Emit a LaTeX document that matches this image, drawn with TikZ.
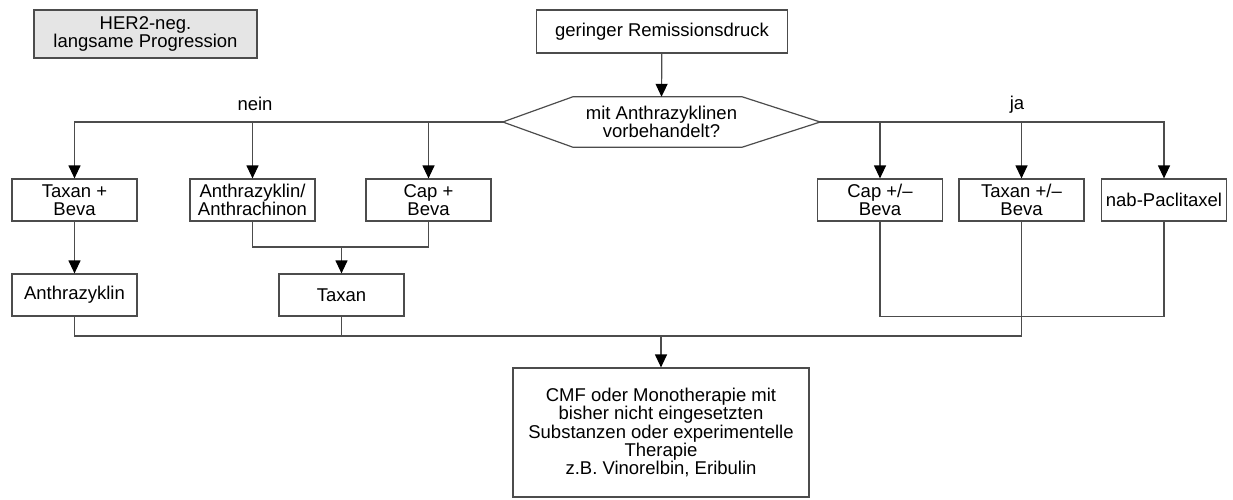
\documentclass[tikz,border=0pt]{standalone}
\usepackage{fontspec}
\setmainfont{Liberation Sans}
\usetikzlibrary{arrows.meta}

\begin{document}
\begin{tikzpicture}[x=1pt,y=-1pt,
    box/.style={draw=black!70, line width=1.2pt, minimum width=125pt, minimum height=42pt,
        align=center, inner sep=0pt, font=\fontsize{18.5}{18.3}\selectfont},
    link/.style={draw=black!70, line width=1.2pt},
    arr/.style={link, -{Triangle[length=13pt,width=12pt,color=black]}},
    txt/.style={font=\fontsize{18.5}{18.3}\selectfont, inner sep=0pt}]

    % Page frame
    \useasboundingbox (0,0) rectangle (1233,500);

    % Heading boxes
    \node (her) at (145.5,34) [box, fill=black!10, minimum width=223pt, minimum height=48pt] {HER2-neg.\\langsame Progression};
    \node (start) at (662,31.5) [box, minimum width=251pt, minimum height=43pt] {geringer Remissionsdruck};

    % Question (hexagon drawn round the node)
    \node (q) at (661.5,122) [txt, align=center, minimum width=317pt, minimum height=50pt] {mit Anthrazyklinen\\vorbehandelt?};
    \draw[link] (q.west) -- ([xshift=70pt]q.north west) -- ([xshift=-78pt]q.north east) -- (q.east)
        -- ([xshift=-78pt]q.south east) -- ([xshift=70pt]q.south west) -- cycle;

    % Branch labels
    \node (nein) at (255,104) [txt] {nein};
    \node (ja) at (1017,105) [txt] {ja};

    % First line of therapy
    \node (tb) at (74.5,200) [box] {Taxan +\\Beva};
    \node (aa) at (252.5,200) [box] {Anthrazyklin/\\Anthrachinon};
    \node (cb) at (428.5,200) [box] {Cap +\\Beva};
    \node (cpb) at (880,200) [box] {Cap +/--\\Beva};
    \node (tpb) at (1021.5,200) [box] {Taxan +/--\\Beva};
    \node (nab) at (1164,200) [box] {nab-Paclitaxel};

    % Second line of therapy
    \node (an) at (74.5,295) [box] {Anthrazyklin};
    \node (tx) at (341.5,295) [box] {Taxan};

    % Final box
    \node (fin) at (661,432.5) [box, minimum width=296pt, minimum height=129pt] {CMF oder Monotherapie mit\\bisher nicht eingesetzten\\Substanzen oder experimentelle\\Therapie\\z.B. Vinorelbin, Eribulin};

    % Junction points
    \coordinate (m1) at (341.5,247);
    \coordinate (m2) at (661,336);

    % Connectors
    \draw[arr] (start) -- (q.north);
    \draw[arr] (q.west) -| (tb);
    \draw[arr] (q.west) -| (aa);
    \draw[arr] (q.west) -| (cb);
    \draw[arr] (q.east) -| (cpb);
    \draw[arr] (q.east) -| (tpb);
    \draw[arr] (q.east) -| (nab);
    \draw[arr] (tb) -- (an);
    \draw[link] (aa) |- (m1);
    \draw[link] (cb) |- (m1);
    \draw[arr] (m1) -- (tx);
    \draw[link] (cpb.south) -- ++(0,95) -| (nab.south);
    \draw[link] (an) |- (m2);
    \draw[link] (tx) |- (m2);
    \draw[link] (tpb) |- (m2);
    \draw[arr] (m2) -- (fin);

\end{tikzpicture}
\end{document}
